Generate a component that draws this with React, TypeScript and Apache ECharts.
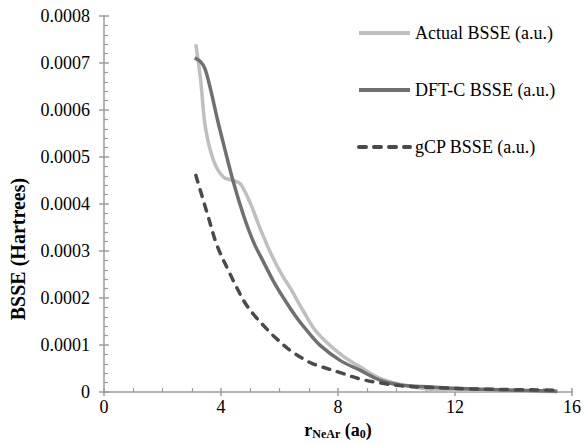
import React, { useEffect, useRef } from "react";
import * as echarts from "echarts";

// r (a0) and BSSE (Hartrees) values
const actualR = [3.14, 3.3, 3.47, 3.75, 4.09, 4.43, 4.66, 5.0, 5.35, 5.69, 6.03, 6.37, 6.82, 7.28, 8.07, 8.75, 9.43, 10.3, 11.0, 12.0, 13.0, 14.0, 15.5];
const actualBSSE = [0.00074, 0.000666, 0.000562, 0.000492, 0.000457, 0.00045, 0.000443, 0.000402, 0.000346, 0.000297, 0.000255, 0.000221, 0.000172, 0.000127, 0.0000815, 0.0000537, 0.0000292, 0.000014, 0.000007, 0.000004, 0.000003, 0.000002, 0.000001];

const dftcR = [3.1, 3.3, 3.45, 3.64, 3.87, 4.09, 4.44, 4.78, 5.12, 5.46, 5.8, 6.14, 6.59, 6.99, 7.39, 8.07, 8.75, 9.43, 10.11, 11.2, 12.0, 13.0, 14.0, 15.5];
const dftcBSSE = [0.000711, 0.000703, 0.000688, 0.000645, 0.000582, 0.000527, 0.000443, 0.000374, 0.000318, 0.000276, 0.000235, 0.0002, 0.000158, 0.000127, 0.0000995, 0.0000675, 0.0000466, 0.0000257, 0.0000152, 0.000011, 0.000008, 0.000006, 0.000004, 0.000002];

const gcpR = [3.14, 3.53, 3.87, 4.32, 4.55, 4.83, 5.17, 5.57, 5.79, 6.36, 7.04, 7.39, 8.07, 8.75, 9.43, 10.11, 10.79, 11.7, 12.49, 13.4, 15.5];
const gcpBSSE = [0.000461, 0.00038, 0.000311, 0.00025, 0.000221, 0.000189, 0.000161, 0.000134, 0.00012, 0.000089, 0.000063, 0.000055, 0.0000415, 0.000028, 0.0000195, 0.0000138, 0.0000108, 0.0000086, 0.0000068, 0.0000058, 0.000004];

const seriesNames = ["Actual BSSE (a.u.)", "DFT-C BSSE (a.u.)", "gCP BSSE (a.u.)"];

const zip = (xs: number[], ys: number[]) => xs.map((x, i) => [x, ys[i]]);

const FONT = "Liberation Serif";
const AXIS_COLOR = "#9c9c9c";

export default function App() {
  const ref = useRef<HTMLDivElement>(null);
  useEffect(() => {
    if (!ref.current) return;
    const chart = echarts.init(ref.current, undefined, { renderer: "svg" });
    const axisLine = { lineStyle: { color: AXIS_COLOR, width: 1.5 } };
    const baseLabel = { fontFamily: FONT, fontSize: 18, color: "#000" };
    const lineSeries = (i: number, xs: number[], ys: number[], lineStyle: any) => ({
      name: seriesNames[i],
      type: "line",
      xAxisIndex: 0,
      yAxisIndex: 0,
      data: zip(xs, ys),
      smooth: 0.35,
      symbol: "none",
      showSymbol: false,
      lineStyle,
      itemStyle: { color: lineStyle.color },
      z: 2 + i,
    });
    chart.setOption({
      animation: false,
      backgroundColor: "#fff",
      grid: { left: 103, right: 11, top: 16, bottom: 46, containLabel: false },
      legend: {
        orient: "vertical",
        left: 357,
        top: 24,
        padding: 0,
        itemWidth: 51,
        itemHeight: 14,
        itemGap: 39,
        itemStyle: { opacity: 0 },
        lineStyle: { width: 4 },
        textStyle: { fontFamily: FONT, fontSize: 18, color: "#000" },
        data: seriesNames,
      },
      xAxis: [
        {
          type: "value",
          min: 0,
          max: 16,
          interval: 4,
          position: "bottom",
          axisLine: { ...axisLine, onZero: false },
          axisTick: { show: true, inside: false, length: 4, lineStyle: { color: AXIS_COLOR, width: 1.5 } },
          axisLabel: { ...baseLabel, margin: 6 },
          splitLine: { show: false },
          name: "{b|r}{s|NeAr}{b| (a}{s|0}{b|)}",
          nameLocation: "middle",
          nameGap: 27,
          nameTextStyle: {
            rich: {
              b: { fontFamily: FONT, fontSize: 18, fontWeight: "bold", color: "#000", lineHeight: 20 },
              s: { fontFamily: FONT, fontSize: 12, fontWeight: "bold", color: "#000", verticalAlign: "bottom", lineHeight: 20, padding: [6, 0, 0, 0] },
            },
          },
        },
        {
          type: "value",
          min: 0,
          max: 16,
          interval: 4,
          position: "bottom",
          axisLine: { show: false, onZero: false },
          axisTick: { show: true, inside: true, length: 4, lineStyle: { color: AXIS_COLOR, width: 1.5 } },
          minorTick: { show: true, splitNumber: 4, length: 4, lineStyle: { color: AXIS_COLOR, width: 1.2 } },
          axisLabel: { show: false },
          splitLine: { show: false },
        },
      ],
      yAxis: [
        {
          type: "value",
          min: 0,
          max: 0.0008,
          interval: 0.0001,
          position: "left",
          axisLine: { ...axisLine, onZero: false },
          axisTick: { show: true, inside: false, length: 5, lineStyle: { color: AXIS_COLOR, width: 1.5 } },
          axisLabel: {
            ...baseLabel,
            margin: 14,
            formatter: (v: number) => (v === 0 ? "0" : v.toFixed(4)),
          },
          splitLine: { show: false },
          name: "BSSE (Hartrees)",
          nameLocation: "middle",
          nameGap: 76,
          nameRotate: 90,
          nameTextStyle: { fontFamily: FONT, fontSize: 20, fontWeight: "bold", color: "#000", padding: [0, 90, 0, 0] },
        },
        {
          type: "value",
          min: 0,
          max: 0.0008,
          interval: 0.0001,
          position: "left",
          axisLine: { show: false, onZero: false },
          axisTick: { show: true, inside: true, length: 5, lineStyle: { color: AXIS_COLOR, width: 1.5 } },
          minorTick: { show: true, splitNumber: 5, length: 4, lineStyle: { color: AXIS_COLOR, width: 1.2 } },
          axisLabel: { show: false },
          splitLine: { show: false },
        },
      ],
      series: [
        lineSeries(0, actualR, actualBSSE, { color: "#bfbfbf", width: 3.5 }),
        lineSeries(1, dftcR, dftcBSSE, { color: "#707070", width: 3.5 }),
        lineSeries(2, gcpR, gcpBSSE, { color: "#4a4a4a", width: 3.5, type: [7, 8], cap: "round" }),
      ],
    });
    return () => chart.dispose();
  }, []);
  return <div ref={ref} style={{ position: "absolute", left: 0, top: 0, width: 584, height: 445 }} />;
}
